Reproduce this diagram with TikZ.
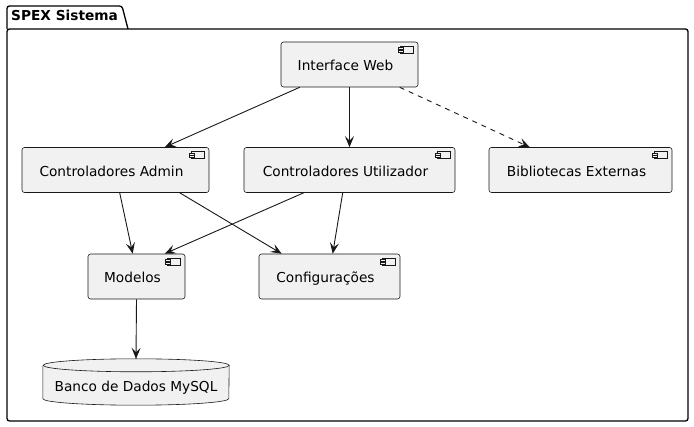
\documentclass[tikz,border=0pt]{standalone}
\usepackage{fontspec}
\setmainfont{DejaVu Sans}
\usepackage{tikz}
\usetikzlibrary{arrows.meta,calc,backgrounds}
\definecolor{boxfill}{HTML}{F1F1F1}
\definecolor{boxline}{HTML}{181818}
\tikzset{
	comp/.style= {
		draw=boxline, fill=boxfill, line width=0.6pt,
		rounded corners=2.5pt, inner sep=0,
		minimum height=45, text height=1.5em, text depth=0.25em,
		font=\fontsize{13.7}{16}\selectfont,
		execute at end node={\hspace*{8pt}} % room for the icon
	},
	dbtext/.style= {
		inner sep=0, minimum width=186, minimum height=46,
		text height=2.15em, text depth=0.25em,
		font=\fontsize{13.7}{16}\selectfont
	},
	dep/.style= {
		draw=boxline, line width=0.9pt,
		-{Stealth[length=11pt,width=9pt,inset=4.5pt]}
	},
	pkg/.style= {draw=black, line width=1.3pt, rounded corners=2.5pt}
}

\begin{document}
\begin{tikzpicture}[x=1pt,y=-1pt]
\useasboundingbox (0,0) rectangle (694,427);
% package frame
\draw[pkg] (7,29) -- (7,6) -- (122,6) -- (128,29);
\draw[pkg] (7,29) -- (688,29) -- (688,421) -- (7,421) -- cycle;
\node[anchor=base west, inner sep=0, font=\fontsize{13.7}{16}\selectfont\bfseries] (title) at (11,21) {SPEX Sistema};

% components
\node[comp, minimum width=137] (web) at (349.5,64.5) {Interface Web};
\node[comp, minimum width=187] (admin) at (115.5,170) {Controladores Admin};
\node[comp, minimum width=211] (util) at (349.5,170) {Controladores Utilizador};
\node[comp, minimum width=183] (bib) at (580.5,170) {Bibliotecas Externas};
\node[comp, minimum width=97] (modelos) at (136.5,276.5) {Modelos};
\node[comp, minimum width=141] (config) at (329.5,276.5) {Configurações};

% component icons
\foreach \n in {web,admin,util,bib,modelos,config}{%
	\draw[boxline, fill=boxfill, line width=0.5pt] ($(\n.north east)+(-18,4.5)$) rectangle ($(\n.north east)+(-5,11.5)$);
	\draw[boxline, fill=boxfill, line width=0.5pt] ($(\n.north east)+(-20.5,6)$) rectangle ($(\n.north east)+(-15.5,7.8)$);
	\draw[boxline, fill=boxfill, line width=0.5pt] ($(\n.north east)+(-20.5,8.5)$) rectangle ($(\n.north east)+(-15.5,10.3)$);
}

% database
\node[dbtext] (db) at (136,382) {Banco de Dados MySQL};
\begin{scope}[on background layer]
\draw[boxline, fill=boxfill, line width=0.6pt] ($(db.north west)+(0,6.5)$) -- ($(db.south west)+(0,-6.5)$)
	arc[start angle=180, end angle=360, x radius=93pt, y radius=6.5pt]
	-- ($(db.north east)+(0,6.5)$)
	arc[start angle=0, end angle=180, x radius=93pt, y radius=6.5pt];
\draw[boxline, line width=0.6pt] ($(db.north east)+(0,6.5)$)
	arc[start angle=0, end angle=-180, x radius=93pt, y radius=6.5pt];
\end{scope}

% dependencies
\draw[dep] ($(web.south west)+(19,0)$) -- ($(admin.north west)+(143,0)$);
\draw[dep] (web.south) -- (util.north);
\draw[dep, dash pattern=on 5pt off 5pt] ($(web.south west)+(119,0)$) -- ($(bib.north west)+(41,0)$);
\draw[dep] ($(admin.south west)+(98,0)$) -- ($(modelos.north west)+(45,0)$);
\draw[dep] ($(admin.south west)+(158,0)$) -- ($(config.north west)+(23,0)$);
\draw[dep] ($(util.south west)+(60,0)$) -- ($(modelos.north west)+(77,0)$);
\draw[dep] ($(util.south west)+(99,0)$) -- ($(config.north west)+(74,0)$);
\draw[dep] (modelos.south) -- (db.north);
\end{tikzpicture}
\end{document}
